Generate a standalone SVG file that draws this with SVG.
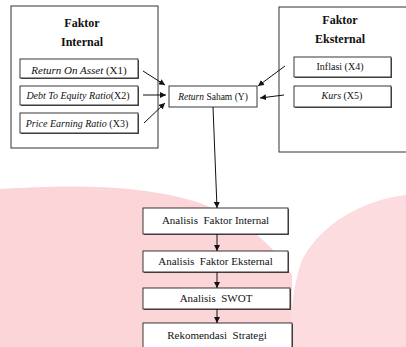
<svg xmlns="http://www.w3.org/2000/svg" width="406" height="347" viewBox="0 0 406 347">
<defs>
<style>
.bg{fill:#fcd5d8}
.bg2{fill:#fddcdf}
.frame{fill:#fff;stroke:#333;stroke-width:1}
.box{fill:#fff;stroke:#222;stroke-width:0.9}
.sh{fill:#555}
.t{font-family:"Liberation Serif","Times New Roman",serif;fill:#111}
.b{font-weight:bold;font-size:12px}
.i{font-style:italic}
.c{stroke:#111;stroke-width:1;fill:none}
</style>
<marker id="ah" viewBox="0 0 10 10" refX="10" refY="5" markerWidth="6" markerHeight="6" markerUnits="userSpaceOnUse" orient="auto">
<path d="M0,0 L10,5 L0,10 Z" fill="#111"/>
</marker>
</defs>
<rect width="406" height="347" fill="#fff"/>
<path class="bg" d="M0,189 C60,185 140,183 200,203 C240,218 272,242 292,275 L292,347 L0,347 Z"/>
<path class="bg2" d="M406,195 C362,200 322,224 303,258 C293,282 290,318 290,347 L406,347 Z"/>

<g id="faktor-internal">
<rect class="frame" x="11" y="6" width="147" height="142"/>
<text class="t b" x="82" y="27" text-anchor="middle">Faktor</text>
<text class="t b" x="82" y="46" text-anchor="middle">Internal</text>
</g>
<g id="x1">
<rect class="sh" x="21" y="60" width="118" height="19"/>
<rect class="box" x="20" y="59" width="118" height="19"/>
<text class="t" x="79" y="74" font-size="11" text-anchor="middle"><tspan class="i">Return On Asset</tspan> (X1)</text>
</g>
<g id="x2">
<rect class="sh" x="21" y="87" width="118" height="19"/>
<rect class="box" x="20" y="86" width="118" height="19"/>
<text class="t" x="78" y="99" font-size="10" text-anchor="middle"><tspan class="i">Debt To Equity Ratio</tspan>(X2)</text>
</g>
<g id="x3">
<rect class="sh" x="21" y="114" width="118" height="20"/>
<rect class="box" x="20" y="113" width="118" height="20"/>
<text class="t" x="77" y="127" font-size="10" text-anchor="middle"><tspan class="i">Price Earning Ratio</tspan> (X3)</text>
</g>

<g id="faktor-eksternal">
<rect class="frame" x="279" y="7" width="135" height="145"/>
<text class="t b" x="340" y="24" text-anchor="middle">Faktor</text>
<text class="t b" x="340" y="43" text-anchor="middle">Eksternal</text>
</g>
<g id="x4">
<rect class="sh" x="295" y="58" width="97" height="20"/>
<rect class="box" x="294" y="57" width="97" height="20"/>
<text class="t" x="340" y="70" font-size="10" text-anchor="middle">Inflasi (X4)</text>
</g>
<g id="x5">
<rect class="sh" x="295" y="87" width="97" height="21"/>
<rect class="box" x="294" y="86" width="97" height="21"/>
<text class="t" x="342" y="99" font-size="10" text-anchor="middle"><tspan class="i">Kurs</tspan> (X5)</text>
</g>

<g id="y">
<rect class="box" x="169" y="86" width="88" height="21"/>
<text class="t" x="213" y="100" font-size="9.5" text-anchor="middle"><tspan class="i">Return</tspan> Saham (Y)</text>
</g>

<g id="analisis-internal">
<rect class="sh" x="144" y="209" width="145" height="26"/>
<rect class="box" x="143" y="208" width="145" height="26"/>
<text class="t" x="215.5" y="224" font-size="11" text-anchor="middle" xml:space="preserve">Analisis  Faktor Internal</text>
</g>
<g id="analisis-eksternal">
<rect class="sh" x="144" y="252" width="145" height="21"/>
<rect class="box" x="143" y="251" width="145" height="21"/>
<text class="t" x="215.5" y="265" font-size="11" text-anchor="middle" xml:space="preserve">Analisis  Faktor Eksternal</text>
</g>
<g id="swot">
<rect class="sh" x="144" y="289" width="147" height="21"/>
<rect class="box" x="143" y="288" width="147" height="21"/>
<text class="t" x="216" y="302" font-size="11" text-anchor="middle" xml:space="preserve">Analisis  SWOT</text>
</g>
<g id="rekomendasi">
<rect class="sh" x="144" y="324" width="149" height="30"/>
<rect class="box" x="143" y="323" width="149" height="30"/>
<text class="t" x="217" y="339" font-size="11" text-anchor="middle" xml:space="preserve">Rekomendasi  Strategi</text>
</g>

<g id="connectors">
<line class="c" x1="143" y1="71" x2="165" y2="85" marker-end="url(#ah)"/>
<line class="c" x1="143" y1="95" x2="166" y2="95" marker-end="url(#ah)"/>
<line class="c" x1="144" y1="123" x2="165" y2="103" marker-end="url(#ah)"/>
<line class="c" x1="285" y1="66" x2="258" y2="86" marker-end="url(#ah)"/>
<line class="c" x1="284" y1="95" x2="260" y2="98" marker-end="url(#ah)"/>
<line class="c" x1="213" y1="107" x2="217" y2="208" marker-end="url(#ah)"/>
<line class="c" x1="217" y1="234" x2="217" y2="251" marker-end="url(#ah)"/>
<line class="c" x1="217" y1="272" x2="217" y2="288" marker-end="url(#ah)"/>
<line class="c" x1="217" y1="309" x2="217" y2="323" marker-end="url(#ah)"/>
</g>
</svg>
